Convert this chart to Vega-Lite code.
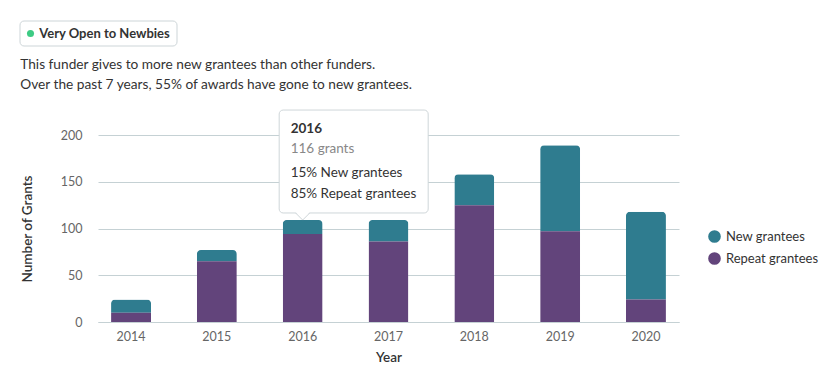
{
  "$schema": "https://vega.github.io/schema/vega-lite/v6.json",
  "padding": {"left": 19, "top": 20, "right": 0, "bottom": 0},
  "background": "white",
  "config": {"font": "Lato", "view": {"stroke": null}},
  "datasets": {
    "grants": [
      {"year": "2014", "type": "New grantees", "count": 14},
      {"year": "2014", "type": "Repeat grantees", "count": 10},
      {"year": "2015", "type": "New grantees", "count": 12},
      {"year": "2015", "type": "Repeat grantees", "count": 65},
      {"year": "2016", "type": "New grantees", "count": 15},
      {"year": "2016", "type": "Repeat grantees", "count": 94},
      {"year": "2017", "type": "New grantees", "count": 23},
      {"year": "2017", "type": "Repeat grantees", "count": 86},
      {"year": "2018", "type": "New grantees", "count": 33},
      {"year": "2018", "type": "Repeat grantees", "count": 125},
      {"year": "2019", "type": "New grantees", "count": 92},
      {"year": "2019", "type": "Repeat grantees", "count": 97},
      {"year": "2020", "type": "New grantees", "count": 94},
      {"year": "2020", "type": "Repeat grantees", "count": 24}
    ],
    "badge": [{"label": "Very Open to Newbies"}],
    "tip": [{"year": "2016", "title": "2016", "total": "116 grants", "line1": "15% New grantees", "line2": "85% Repeat grantees"}]
  },
  "columns": 1,
  "align": "none",
  "spacing": 10,
  "concat": [
    {
      "width": 157,
      "height": 25,
      "data": {"name": "badge"},
      "layer": [
        {"mark": {"type": "rect", "fill": "white", "stroke": "#cdd5d8", "strokeWidth": 1, "cornerRadius": 4}, "encoding": {"x": {"value": -78}, "x2": {"value": 79}, "y": {"value": 0}, "y2": {"value": 25}}},
        {"mark": {"type": "point", "filled": true, "color": "#3dcb84", "size": 50, "opacity": 1, "xOffset": -146}, "encoding": {}},
        {"mark": {"type": "text", "fontWeight": "bold", "fontSize": 13, "color": "#333333", "dx": -72}, "encoding": {"text": {"field": "label"}}}
      ]
    },
    {
      "width": 581,
      "height": 187,
      "title": {
        "text": ["This funder gives to more new grantees than other funders.", "Over the past 7 years, 55% of awards have gone to new grantees."],
        "anchor": "start",
        "fontSize": 13.7,
        "fontWeight": "normal",
        "color": "#333333",
        "lineHeight": 20,
        "offset": 18
      },
      "layer": [
        {
          "data": {"name": "grants"},
          "mark": {"type": "bar", "cornerRadiusTopLeft": 4, "cornerRadiusTopRight": 4},
          "encoding": {
            "x": {
              "field": "year", "type": "ordinal", "title": "Year",
              "scale": {"paddingInner": 0.534, "paddingOuter": 0.152},
              "axis": {"labelAngle": 0, "ticks": false, "domainColor": "#c5d1d4", "labelColor": "#666666", "labelFontSize": 12.5, "labelPadding": 8, "titleFontSize": 13.5, "titleFontWeight": 600, "titleColor": "#333333", "titlePadding": 8, "grid": false}
            },
            "y": {
              "field": "count", "type": "quantitative", "stack": "zero", "title": "Number of Grants",
              "scale": {"domain": [0, 200], "nice": false},
              "axis": {
                "values": [0, 25, 50, 75, 100, 125, 150, 175, 200],
                "labelExpr": "datum.value % 50 === 0 ? datum.label : ''",
                "domain": false, "ticks": false, "tickSize": 0, "labelPadding": 16,
                "labelColor": "#666666", "labelFontSize": 12.5,
                "gridColor": {"condition": {"test": "datum.value % 50 === 0", "value": "#c5d1d4"}, "value": "#e3e7e8"},
                "titleFontSize": 13.5, "titleFontWeight": 600, "titleColor": "#333333", "titlePadding": 26
              }
            },
            "color": {
              "field": "type", "type": "nominal",
              "scale": {"domain": ["New grantees", "Repeat grantees"], "range": ["#2f7c8f", "#62447b"]},
              "legend": {"title": null, "orient": "none", "legendX": 610, "legendY": 209, "symbolType": "circle", "symbolSize": 160, "symbolStrokeWidth": 0, "labelFontSize": 13, "labelColor": "#333333", "rowPadding": 8, "labelOffset": 5}
            },
            "order": {"field": "type", "sort": "descending"}
          }
        },
        {
          "data": {"name": "tip"},
          "mark": {"type": "bar", "width": 149, "xOffset": 51, "fill": "white", "stroke": "#cfd6d9", "strokeWidth": 1, "cornerRadius": 4},
          "encoding": {
            "x": {"field": "year", "type": "ordinal"},
            "y": {"datum": 226.7, "type": "quantitative"},
            "y2": {"datum": 116.6}
          }
        },
        {
          "data": {"name": "tip"},
          "mark": {"type": "point", "shape": "M-1,-0.65L0,0.5L1,-0.65Z", "size": 196, "filled": true, "fill": "white", "strokeWidth": 0, "opacity": 1},
          "encoding": {
            "x": {"field": "year", "type": "ordinal"},
            "y": {"datum": 112.8, "type": "quantitative"}
          }
        },
        {
          "data": {"name": "tip"},
          "mark": {"type": "point", "shape": "M-1,-0.5L0,0.5L1,-0.5", "size": 196, "filled": false, "stroke": "#cfd6d9", "strokeWidth": 1, "opacity": 1},
          "encoding": {
            "x": {"field": "year", "type": "ordinal"},
            "y": {"datum": 112.8, "type": "quantitative"}
          }
        },
        {
          "data": {"name": "tip"},
          "mark": {"type": "text", "align": "left", "baseline": "middle", "dx": -12, "fontSize": 13.5, "fontWeight": "bold", "color": "#333333"},
          "encoding": {
            "x": {"field": "year", "type": "ordinal"},
            "y": {"datum": 206.4, "type": "quantitative"},
            "text": {"field": "title"}
          }
        },
        {
          "data": {"name": "tip"},
          "mark": {"type": "text", "align": "left", "baseline": "middle", "dx": -12, "fontSize": 13.5, "color": "#888888"},
          "encoding": {
            "x": {"field": "year", "type": "ordinal"},
            "y": {"datum": 185, "type": "quantitative"},
            "text": {"field": "total"}
          }
        },
        {
          "data": {"name": "tip"},
          "mark": {"type": "text", "align": "left", "baseline": "middle", "dx": -12, "fontSize": 13.5, "color": "#333333"},
          "encoding": {
            "x": {"field": "year", "type": "ordinal"},
            "y": {"datum": 159.4, "type": "quantitative"},
            "text": {"field": "line1"}
          }
        },
        {
          "data": {"name": "tip"},
          "mark": {"type": "text", "align": "left", "baseline": "middle", "dx": -12, "fontSize": 13.5, "color": "#333333"},
          "encoding": {
            "x": {"field": "year", "type": "ordinal"},
            "y": {"datum": 136.9, "type": "quantitative"},
            "text": {"field": "line2"}
          }
        }
      ]
    }
  ]
}
